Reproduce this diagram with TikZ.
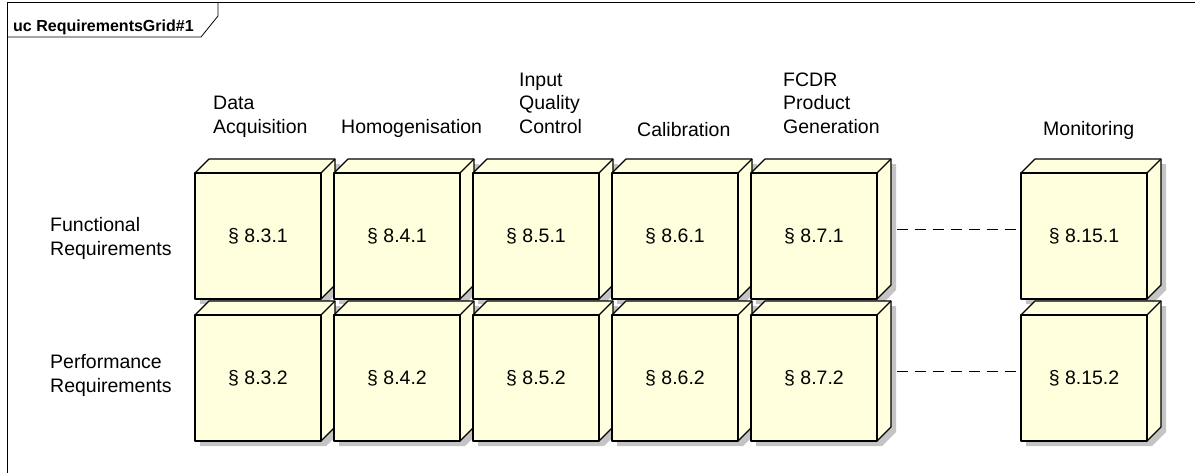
\documentclass[tikz,border=0pt]{standalone}
\usepackage{fontspec}
\setmainfont{Liberation Sans}
\definecolor{boxfill}{RGB}{255,255,221}
\definecolor{boxshadow}{RGB}{196,196,196}
\begin{document}
\begin{tikzpicture}[x=1pt,y=-1pt]
	\tikzset{face/.style = {draw,line width=1.1pt,fill=boxfill,line join=round}}
	\tikzset{req/.style = {face,minimum width=126pt,minimum height=126pt,inner sep=0pt,font=\fontsize{19.5}{23.5}\selectfont}}
	\tikzset{head/.style = {anchor=base west,align=left,inner sep=0pt,font=\fontsize{19.5}{23.5}\selectfont}}
	\tikzset{link/.style = {draw,line width=0.9pt,dash pattern=on 11pt off 7pt}}
	\useasboundingbox (0,0) rectangle (1195,472);
	% frame and tab
	\draw[line width=0.8pt] (7,480) -- (7,2) -- (1200,2);
	\draw[line width=0.8pt] (7,37) -- (201,37) -- (218,16) -- (218,2);
	\node[anchor=base west,inner sep=0pt,font=\fontsize{16}{16}\selectfont\bfseries] (title) at (13,31) {uc RequirementsGrid\#1};
	% column and row headers
	\node[head] (hacq) at (213,133) {Data\\Acquisition};
	\node[head] (hhom) at (341,133) {Homogenisation};
	\node[head] (hiqc) at (519,133) {Input\\Quality\\Control};
	\node[head] (hcal) at (637,136) {Calibration};
	\node[head] (hgen) at (783,133) {FCDR\\Product\\Generation};
	\node[head] (hmon) at (1043,135) {Monitoring};
	\node[head] (hfun) at (50,255) {Functional\\Requirements};
	\node[head] (hper) at (50,392) {Performance\\Requirements};
	% cubes
	\foreach \y/\r/\n in {173/f/1,315/p/2}
		\foreach \x/\c/\s in {195/a/3,334/b/4,473/c/5,612/d/6,751/e/7,1021/m/15} {
			\fill[boxshadow] (\x+5,\y+5) -- ++(14,-14) -- ++(126,0) -- ++(0,126) -- ++(-14,14) -- ++(-126,0) -- cycle;
			\path[face] (\x,\y) -- ++(14,-14) -- ++(126,0) -- ++(0,126) -- ++(-14,14) -- ++(0,-126) -- cycle;
			\draw[line width=1.1pt] (\x+126,\y) -- ++(14,-14);
			\node[req] (\r\c) at (\x+63,\y+63) {§ 8.\s.\n};
		}
	\path[link] ([xshift=19pt,yshift=7pt]fe.east) edge ([yshift=7pt]fm.west);
	\path[link] ([xshift=19pt,yshift=7pt]pe.east) edge ([yshift=7pt]pm.west);
\end{tikzpicture}
\end{document}
